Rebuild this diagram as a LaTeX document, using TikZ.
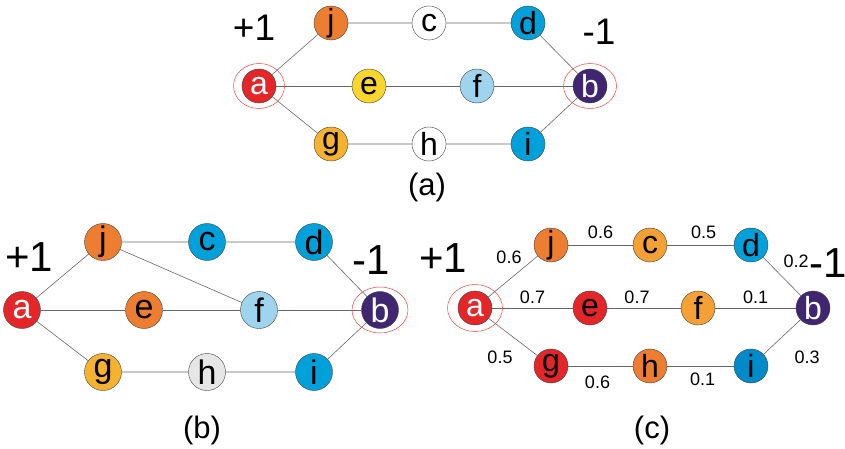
\documentclass[tikz,border=0pt]{standalone}
\usepackage{fontspec}
\setmainfont{Liberation Sans}
\usetikzlibrary{positioning}
\definecolor{cred}{RGB}{228,38,40}
\definecolor{corange}{RGB}{237,125,49}
\definecolor{clorange}{RGB}{244,160,52}
\definecolor{cyellow}{RGB}{249,214,46}
\definecolor{cblue}{RGB}{0,160,218}
\definecolor{cdblue}{RGB}{0,138,202}
\definecolor{clblue}{RGB}{158,212,238}
\definecolor{cpurple}{RGB}{64,38,112}
\definecolor{cgold}{RGB}{245,178,46}
\definecolor{cgray}{RGB}{230,230,230}
\tikzset{
  vtx/.style={circle,draw=black!75,line width=0.4pt,inner sep=0pt,minimum size=34pt,
              font=\fontsize{32}{32}\selectfont},
  vtxb/.style={vtx,minimum size=37pt,font=\fontsize{34}{34}\selectfont},
  lnk/.style={draw=black!60,line width=0.6pt},
  ring/.style={draw=red!75,line width=0.5pt},
  sgn/.style={font=\fontsize{37}{37}\selectfont},
  sgnb/.style={font=\fontsize{42}{42}\selectfont},
  wgt/.style={font=\fontsize{18}{18}\selectfont,inner sep=0pt},
  captxt/.style={font=\fontsize{31}{31}\selectfont}
}
\begin{document}
\begin{tikzpicture}[x=1pt,y=-1pt]
\useasboundingbox (0,0) rectangle (845,449);

% (a)
\node[vtx,fill=cred,text=white] (a1) at (259,86) {a};
\node[vtx,fill=corange] (j1) at (331,23) {j};
\node[vtx,fill=white] (c1) at (429,23) {c};
\node[vtx,fill=cblue] (d1) at (528,23) {d};
\node[vtx,fill=cyellow] (e1) at (369,86) {e};
\node[vtx,fill=clblue] (f1) at (477,86) {f};
\node[vtx,fill=cpurple,text=white] (b1) at (590,86) {b};
\node[vtx,fill=cgold] (g1) at (331,144) {g};
\node[vtx,fill=white] (h1) at (429,144) {h};
\node[vtx,fill=cblue] (i1) at (528,144) {i};
\node[sgn] (p1) at (254,28) {+1};
\node[sgn] (m1) at (599,32) {-1};
\node[captxt] (ta) at (427,187) {(a)};

\draw[lnk] (a1) -- (j1) -- (c1) -- (d1) -- (b1);
\draw[lnk] (a1) -- (e1) -- (f1) -- (b1);
\draw[lnk] (a1) -- (g1) -- (h1) -- (i1) -- (b1);
\draw[ring] (a1) ellipse [x radius=25.5pt, y radius=22.5pt];
\draw[ring] (b1) ellipse [x radius=26.5pt, y radius=22.5pt];

% (b)
\node[vtxb,fill=cred,text=white] (a2) at (22,310) {a};
\node[vtxb,fill=corange] (j2) at (103,242) {j};
\node[vtxb,fill=cblue] (c2) at (207,242) {c};
\node[vtxb,fill=cblue] (d2) at (314,242) {d};
\node[vtxb,fill=corange] (e2) at (144,310) {e};
\node[vtxb,fill=clblue] (f2) at (259,310) {f};
\node[vtxb,fill=cpurple,text=white] (b2) at (380,310) {b};
\node[vtxb,fill=cgold] (g2) at (103,372) {g};
\node[vtxb,fill=cgray] (h2) at (207,372) {h};
\node[vtxb,fill=cblue] (i2) at (314,372) {i};
\node[sgnb] (p2) at (29,257) {+1};
\node[sgnb] (m2) at (371,260) {-1};
\node[captxt] (tb) at (202,430) {(b)};

\draw[lnk] (a2) -- (j2) -- (c2) -- (d2) -- (b2);
\draw[lnk] (j2) -- (f2);
\draw[lnk] (a2) -- (e2) -- (f2) -- (b2);
\draw[lnk] (a2) -- (g2) -- (h2) -- (i2) -- (b2);
\draw[ring] (b2) ellipse [x radius=28pt, y radius=23pt];

% (c)
\node[vtx,fill=cred,text=white] (a3) at (475,308) {a};
\node[vtx,fill=corange] (j3) at (551,245) {j};
\node[vtx,fill=clorange] (c3) at (650,245) {c};
\node[vtx,fill=cblue] (d3) at (751,245) {d};
\node[vtx,fill=cred] (e3) at (590,308) {e};
\node[vtx,fill=clorange] (f3) at (698,308) {f};
\node[vtx,fill=cpurple,text=white] (b3) at (813,308) {b};
\node[vtx,fill=cred] (g3) at (551,366) {g};
\node[vtx,fill=corange] (h3) at (650,366) {h};
\node[vtx,fill=cdblue] (i3) at (751,366) {i};
\node[sgnb] (p3) at (443,258) {+1};
\node[sgnb] (m3) at (828,263) {-1};
\node[captxt] (tc) at (652,430) {(c)};

\draw[lnk] (a3) -- node[wgt,xshift=-4pt,yshift=19pt] {0.6} (j3);
\draw[lnk] (j3) -- node[wgt,yshift=13pt] {0.6} (c3);
\draw[lnk] (c3) -- node[wgt,xshift=3pt,yshift=13pt] {0.5} (d3);
\draw[lnk] (d3) -- node[wgt,xshift=14pt,yshift=15pt] {0.2} (b3);
\draw[lnk] (a3) -- node[wgt,yshift=11pt] {0.7} (e3);
\draw[lnk] (e3) -- node[wgt,xshift=-7pt,yshift=11pt] {0.7} (f3);
\draw[lnk] (f3) -- node[wgt,yshift=11pt] {0.1} (b3);
\draw[lnk] (a3) -- node[wgt,xshift=-13pt,yshift=-20pt] {0.5} (g3);
\draw[lnk] (g3) -- node[wgt,xshift=-3pt,yshift=-16pt] {0.6} (h3);
\draw[lnk] (h3) -- node[wgt,xshift=2pt,yshift=-13pt] {0.1} (i3);
\draw[lnk] (i3) -- node[wgt,xshift=25pt,yshift=-20pt] {0.3} (b3);
\draw[ring] (a3) ellipse [x radius=27.5pt, y radius=23.5pt];
\end{tikzpicture}
\end{document}
